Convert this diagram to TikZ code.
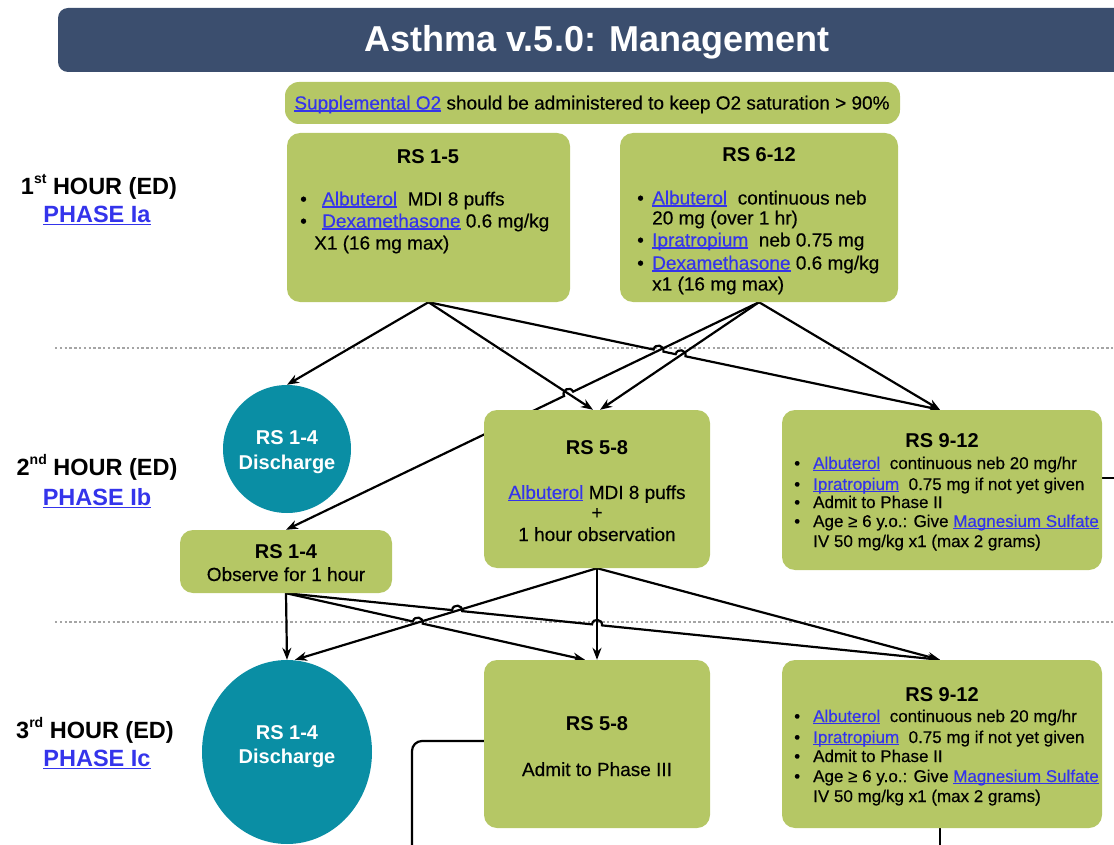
\documentclass[tikz,border=0pt]{standalone}
\usepackage{fontspec}
\setmainfont{Liberation Sans}[UprightFeatures={FakeBold=0.35}]
\usetikzlibrary{arrows.meta,shapes.geometric,calc,intersections}
\pgfdeclarelayer{bg}
\pgfsetlayers{bg,main}
\definecolor{navy}{RGB}{59,78,110}
\definecolor{boxgreen}{RGB}{181,199,101}
\definecolor{discteal}{RGB}{10,142,164}
\definecolor{linkblue}{RGB}{52,52,235}
\definecolor{dotgray}{RGB}{165,165,165}
\newcommand\lnk[1]{\textcolor{linkblue}{\setbox0\hbox{#1}\rlap{\rule[-0.12em]{\wd0}{0.07em}}\box0}}
\newcommand\bul[1]{\makebox[#1][l]{\textbullet}}
\newcommand\fzTitle{\fontsize{36}{40}\selectfont\bfseries}
\newcommand\fzHead{\fontsize{20}{24}\selectfont\bfseries}
\newcommand\fzBody{\fontsize{19}{22}\selectfont}
\newcommand\fzSmall{\fontsize{17}{20}\selectfont}
\newcommand\fzOtwo{\fontsize{19}{22}\selectfont}
\newcommand\fzHour{\fontsize{23.5}{28}\selectfont\bfseries}
\newcommand\sups[1]{\raisebox{0.45em}{\fontsize{14}{14}\selectfont #1}}
\tikzset{
  greenbox/.style={fill=boxgreen, rounded corners=13pt, inner sep=0pt},
  discbox/.style={fill=discteal, inner sep=0pt},
  conn/.style={line width=2.2pt, draw=black, -{Stealth[length=12pt,width=9pt]}},
  plainconn/.style={line width=2.2pt, draw=black},
  hop/.style={bend left=90, looseness=1.7},
  hopr/.style={bend right=90, looseness=1.7},
  sepline/.style={draw=dotgray, line width=2.4pt, dash pattern=on 2.4pt off 2.4pt},
  lbl/.style={inner sep=0pt, anchor=base},
  lblw/.style={inner sep=0pt, anchor=base west},
}
\begin{document}
\begin{tikzpicture}[x=1pt,y=-1pt]
\useasboundingbox (0,0) rectangle (1114,845);

% title
\node[fill=navy, rounded corners=10pt, minimum width=1078pt, minimum height=64pt, inner sep=0pt] (bar) at (597,40) {};
\node[lbl, font=\fzTitle, text=white] (ttl) at (597,52) {Asthma v.5.0: Management};

% O2
\node[greenbox, rounded corners=14pt, minimum width=615pt, minimum height=42pt] (o2) at (592.5,103) {};
\node[lbl, font=\fzOtwo] (o2t) at (592,109.5) {\lnk{Supplemental O2} should be administered to keep O2 saturation > 90\%};

% hour labels
\node[lbl, font=\fzHour] (h1) at (99,194.5) {1\sups{st} HOUR (ED)};
\node[lbl, font=\fzHour] (p1) at (97,222.5) {\lnk{PHASE Ia}};
\node[lbl, font=\fzHour] (h2) at (97,475.5) {2\sups{nd} HOUR (ED)};
\node[lbl, font=\fzHour] (p2) at (97,505.5) {\lnk{PHASE Ib}};
\node[lbl, font=\fzHour] (h3) at (95,738.5) {3\sups{rd} HOUR (ED)};
\node[lbl, font=\fzHour] (p3) at (97,766.5) {\lnk{PHASE Ic}};

% boxes
\node[greenbox, minimum width=283pt, minimum height=169pt] (rs15) at (428.5,217.5) {};
\node[greenbox, minimum width=278pt, minimum height=169pt] (rs612) at (759,217.5) {};
\node[circle, discbox, minimum size=128pt] (c1) at (287,449) {};
\node[greenbox, minimum width=226pt, minimum height=158pt] (r58a) at (597,489) {};
\node[greenbox, minimum width=320pt, minimum height=160pt] (r912a) at (942,490) {};
\node[greenbox, minimum width=212pt, minimum height=63pt] (obs) at (286,561.5) {};
\node[ellipse, discbox, minimum width=170pt, minimum height=184pt] (c2) at (287,752) {};
\node[greenbox, minimum width=226pt, minimum height=168pt] (r58b) at (597,744) {};
\node[greenbox, minimum width=320pt, minimum height=168pt] (r912b) at (942,744) {};

% RS 1-5
\node[lbl, font=\fzHead] (rs15h) at (428,164) {RS 1-5};
\node[lblw, font=\fzBody] (rs15a) at (300,205.5) {\bul{22pt}\lnk{Albuterol}\ \ MDI 8 puffs};
\node[lblw, font=\fzBody] (rs15b) at (300,227.5) {\bul{22pt}\lnk{Dexamethasone} 0.6 mg/kg};
\node[lblw, font=\fzBody] (rs15c) at (314,249.5) {X1 (16 mg max)};

% RS 6-12
\node[lbl, font=\fzHead] (rs612h) at (759,162) {RS 6-12};
\node[lblw, font=\fzBody] (rs612a) at (637,204.5) {\bul{15pt}\lnk{Albuterol}\ \ continuous neb};
\node[lblw, font=\fzBody] (rs612b) at (652,224.5) {20 mg (over 1 hr)};
\node[lblw, font=\fzBody] (rs612c) at (637,246.5) {\bul{15pt}\lnk{Ipratropium}\ \ neb 0.75 mg};
\node[lblw, font=\fzBody] (rs612d) at (637,269.5) {\bul{15pt}\lnk{Dexamethasone}\ 0.6 mg/kg};
\node[lblw, font=\fzBody] (rs612e) at (652,290.5) {x1 (16 mg max)};

% circle 1
\node[lbl, font=\fzHead, text=white] (c1a) at (287,444) {RS 1-4};
\node[lbl, font=\fzHead, text=white] (c1b) at (287,469) {Discharge};

% RS 5-8 (2nd hour)
\node[lbl, font=\fzHead] (r58ah) at (597,454) {RS 5-8};
\node[lbl, font=\fzBody] (r58aa) at (597,499) {\lnk{Albuterol} MDI 8 puffs};
\node[lbl, font=\fzBody] (r58ab) at (597,519) {+};
\node[lbl, font=\fzBody] (r58ac) at (597,541) {1 hour observation};

% RS 9-12 (2nd hour)
\node[lbl, font=\fzHead] (r912ah) at (942,447) {RS 9-12};
\node[lblw, font=\fzSmall] (r912aa) at (794,469) {\bul{19pt}\lnk{Albuterol}\ \ continuous neb 20 mg/hr};
\node[lblw, font=\fzSmall] (r912ab) at (794,490) {\bul{19pt}\lnk{Ipratropium}\ \ 0.75 mg if not yet given};
\node[lblw, font=\fzSmall] (r912ac) at (794,508) {\bul{19pt}Admit to Phase II};
\node[lblw, font=\fzSmall] (r912ad) at (794,527) {\bul{19pt}Age ≥ 6 y.o.: Give \lnk{Magnesium Sulfate}};
\node[lblw, font=\fzSmall] (r912ae) at (813,547) {IV 50 mg/kg x1 (max 2 grams)};

% observe
\node[lbl, font=\fzHead] (obsh) at (286,558) {RS 1-4};
\node[lbl, font=\fzBody] (obsa) at (286,581) {Observe for 1 hour};

% circle 2
\node[lbl, font=\fzHead, text=white] (c2a) at (287,739) {RS 1-4};
\node[lbl, font=\fzHead, text=white] (c2b) at (287,763) {Discharge};

% RS 5-8 (3rd hour)
\node[lbl, font=\fzHead] (r58bh) at (597,730) {RS 5-8};
\node[lbl, font=\fzBody] (r58ba) at (597,776) {Admit to Phase III};

% RS 9-12 (3rd hour)
\node[lbl, font=\fzHead] (r912bh) at (942,701) {RS 9-12};
\node[lblw, font=\fzSmall] (r912ba) at (794,722) {\bul{19pt}\lnk{Albuterol}\ \ continuous neb 20 mg/hr};
\node[lblw, font=\fzSmall] (r912bb) at (794,743) {\bul{19pt}\lnk{Ipratropium}\ \ 0.75 mg if not yet given};
\node[lblw, font=\fzSmall] (r912bc) at (794,762) {\bul{19pt}Admit to Phase II};
\node[lblw, font=\fzSmall] (r912bd) at (794,782) {\bul{19pt}Age ≥ 6 y.o.: Give \lnk{Magnesium Sulfate}};
\node[lblw, font=\fzSmall] (r912be) at (813,802) {IV 50 mg/kg x1 (max 2 grams)};

\begin{pgfonlayer}{bg}
% separators
\draw[sepline] (55,348) -- (1114,348);
\draw[sepline] (55,622) -- (1114,622);

% stage 1
\coordinate (s1) at (rs15.south);
\coordinate (s2) at (rs612.south);
\coordinate (t58L) at ([xshift=-4pt]r58a.north);
\coordinate (t58R) at ([xshift=3pt]r58a.north);
\coordinate (t912) at ([xshift=-2pt]r912a.north);
\path[name path=pA] (s1) -- (t912);
\path[name path=pB] (s2) -- (t58R);
\path[name path=pC] (s2) -- (obs.north);
\path[name path=pF] (s1) -- (t58L);
\path[name intersections={of=pA and pC, by=xAC}];
\path[name intersections={of=pA and pB, by=xAB}];
\path[name intersections={of=pC and pF, by=xCF}];
\draw[conn] (s1) -- (c1.north);
\draw[conn] (s1) -- (t58L);
\draw[conn] (s1) -- ($(xAC)!5pt!(s1)$) to[hop] ($(xAC)!5pt!(t912)$) -- ($(xAB)!5pt!(s1)$) to[hop] ($(xAB)!5pt!(t912)$) -- (t912);
\draw[conn] (s2) -- (t58R);
\draw[conn] (s2) -- (t912);
\draw[conn] (s2) -- ($(xCF)!5pt!(s2)$) to[hopr] ($(xCF)!5pt!(obs.north)$) -- (obs.north);

% stage 2
\coordinate (s3) at (obs.south);
\coordinate (s4) at (r58a.south);
\coordinate (u58) at ([xshift=-12pt]r58b.north);
\coordinate (u912) at ([xshift=-2pt]r912b.north);
\coordinate (uc2) at ([xshift=8pt]c2.north);
\path[name path=pD1] (s3) -- (u58);
\path[name path=pD2] (s3) -- (u912);
\path[name path=pE1] (s4) -- (uc2);
\path[name path=pE2] (s4) -- (r58b.north);
\path[name intersections={of=pD1 and pE1, by=xD1}];
\path[name intersections={of=pD2 and pE1, by=xD2a}];
\path[name intersections={of=pD2 and pE2, by=xD2b}];
\draw[conn] (s3) -- (c2.north);
\draw[conn] (s3) -- ($(xD1)!5pt!(s3)$) to[hop] ($(xD1)!5pt!(u58)$) -- (u58);
\draw[conn] (s3) -- ($(xD2a)!5pt!(s3)$) to[hop] ($(xD2a)!5pt!(u912)$) -- ($(xD2b)!5pt!(s3)$) to[hop] ($(xD2b)!5pt!(u912)$) -- (u912);
\draw[conn] (s4) -- (uc2);
\draw[conn] (s4) -- (r58b.north);
\draw[conn] (s4) -- (u912);

% continuing lines
\coordinate (rOut) at (1116,0);
\coordinate (bL) at (412,847);
\coordinate (e912) at ([yshift=12pt]r912a.east);
\coordinate (w58) at ([yshift=3pt]r58b.west);
\coordinate (b912) at ([xshift=-2pt]r912b.south);
\draw[plainconn] (e912) -- (e912 -| rOut);
\draw[plainconn, rounded corners=10pt] (w58) -- (w58 -| bL) -- (bL);
\draw[plainconn] (b912) -- (b912 |- bL);
\end{pgfonlayer}
\end{tikzpicture}
\end{document}
